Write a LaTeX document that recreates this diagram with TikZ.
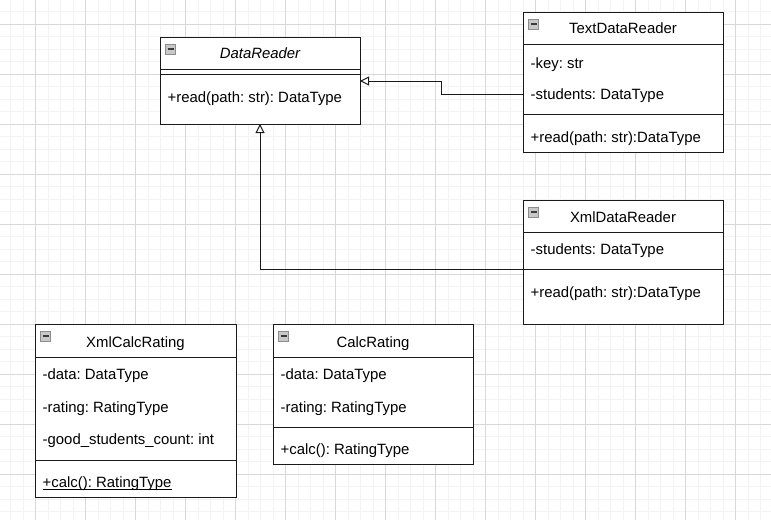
\documentclass[tikz,border=0pt]{standalone}
\usepackage{fontspec}
\setmainfont{Liberation Sans}
\frenchspacing
\usetikzlibrary{arrows.meta}
\definecolor{minorg}{HTML}{F3F3F3}
\definecolor{majorg}{HTML}{D8D8D8}
\definecolor{edge}{HTML}{1A1A1A}
\definecolor{iconframe}{HTML}{8C8C8C}
\definecolor{iconfill}{HTML}{C8C8C8}
\definecolor{iconbar}{HTML}{3A3A3A}
\begin{document}
\begin{tikzpicture}[x=1pt,y=-1pt, font=\fontsize{14.9}{18}\selectfont\frenchspacing,
  umlbox/.style={draw=edge, fill=white, line width=1pt, anchor=north west, inner sep=0pt, outer sep=0pt, minimum width=200pt},
  lbl/.style={inner sep=0pt, anchor=base west},
  ttl/.style={inner sep=0pt, anchor=base},
  sepline/.style={draw=edge, line width=1pt},
  minorline/.style={draw=minorg, line width=1pt},
  majorline/.style={draw=majorg, line width=1pt},
  iconbox/.style={draw=iconframe, fill=iconfill, line width=0.8pt},
  iconminus/.style={draw=iconbar, line width=1.6pt},
  inh/.style={draw=edge, line width=1pt, -{Triangle[fill=white, length=9pt, width=9pt]}}]
\useasboundingbox (0,0) rectangle (771,520);
\fill[white] (0,0) rectangle (771,520);
% grid
\foreach \i [evaluate=\i as \xx using -1.8+12.5*\i] in {0,...,62} {\draw[minorline] (\xx,0) -- (\xx,520);}
\foreach \i [evaluate=\i as \yy using -0.7+12.5*\i] in {0,...,42} {\draw[minorline] (0,\yy) -- (771,\yy);}
\foreach \i [evaluate=\i as \xx using 35.7+50*\i] in {0,...,14} {\draw[majorline] (\xx,0) -- (\xx,520);}
\foreach \i [evaluate=\i as \yy using 24.3+50*\i] in {0,...,9} {\draw[majorline] (0,\yy) -- (771,\yy);}

% DataReader
\node[umlbox, minimum height=87pt] (dr) at (160,37) {};
\draw[sepline] (dr.west |- 0,69) -- (dr.east |- 0,69);
\draw[sepline] (dr.west |- 0,74) -- (dr.east |- 0,74);
\node[ttl] (dr-t) at (260,58.3) {\itshape DataReader};
\node[lbl] (dr-m1) at (167.5,102.5) {+read(path: str): DataType};
\draw[iconbox] ([shift={(5.5,7.5)}]dr.north west) rectangle ++(10,9.5);
\draw[iconminus] ([shift={(7.5,12.2)}]dr.north west) -- ++(6,0);

% TextDataReader
\node[umlbox, minimum height=140pt] (tdr) at (523,12) {};
\draw[sepline] (tdr.west |- 0,44) -- (tdr.east |- 0,44);
\draw[sepline] (tdr.west |- 0,114) -- (tdr.east |- 0,114);
\node[ttl] (tdr-t) at (623,33.8) {TextDataReader};
\node[lbl] (tdr-a1) at (530.5,68.3) {-key: str};
\node[lbl] (tdr-a2) at (530.5,99.3) {-students: DataType};
\node[lbl] (tdr-m1) at (530.5,142.3) {+read(path: str):DataType};
\draw[iconbox] ([shift={(5.5,7.5)}]tdr.north west) rectangle ++(10,9.5);
\draw[iconminus] ([shift={(7.5,12.2)}]tdr.north west) -- ++(6,0);

% XmlDataReader
\node[umlbox, minimum height=124pt] (xdr) at (523,200) {};
\draw[sepline] (xdr.west |- 0,232) -- (xdr.east |- 0,232);
\draw[sepline] (xdr.west |- 0,269) -- (xdr.east |- 0,269);
\node[ttl] (xdr-t) at (623,222.5) {XmlDataReader};
\node[lbl] (xdr-a1) at (530.5,254) {-students: DataType};
\node[lbl] (xdr-m1) at (530.5,297.5) {+read(path: str):DataType};
\draw[iconbox] ([shift={(5.5,7.5)}]xdr.north west) rectangle ++(10,9.5);
\draw[iconminus] ([shift={(7.5,12.2)}]xdr.north west) -- ++(6,0);

% XmlCalcRating
\node[umlbox, minimum width=201pt, minimum height=173pt] (xcr) at (35,324) {};
\draw[sepline] (xcr.west |- 0,357) -- (xcr.east |- 0,357);
\draw[sepline] (xcr.west |- 0,460) -- (xcr.east |- 0,460);
\node[ttl] (xcr-t) at (135.5,347.5) {XmlCalcRating};
\node[lbl] (xcr-a1) at (42.5,379) {-data: DataType};
\node[lbl] (xcr-a2) at (42.5,412.5) {-rating: RatingType};
\node[lbl] (xcr-a3) at (42.5,444) {-good\_students\_count: int};
\node[lbl] (xcr-m1) at (42.5,487.5) {+calc(): RatingType};
\draw[draw=black, line width=0.9pt] ([yshift=-1.8pt]xcr-m1.base west) -- ([yshift=-1.8pt]xcr-m1.base east);
\draw[iconbox] ([shift={(5.5,7.5)}]xcr.north west) rectangle ++(10,9.5);
\draw[iconminus] ([shift={(7.5,12.2)}]xcr.north west) -- ++(6,0);

% CalcRating
\node[umlbox, minimum height=140pt] (cr) at (273,324) {};
\draw[sepline] (cr.west |- 0,357) -- (cr.east |- 0,357);
\draw[sepline] (cr.west |- 0,427) -- (cr.east |- 0,427);
\node[ttl] (cr-t) at (373,347.5) {CalcRating};
\node[lbl] (cr-a1) at (280.5,379) {-data: DataType};
\node[lbl] (cr-a2) at (280.5,412.5) {-rating: RatingType};
\node[lbl] (cr-m1) at (280.5,454) {+calc(): RatingType};
\draw[iconbox] ([shift={(5.5,7.5)}]cr.north west) rectangle ++(10,9.5);
\draw[iconminus] ([shift={(7.5,12.2)}]cr.north west) -- ++(6,0);

% inheritance connectors
\draw[inh] (tdr.west |- 0,94) -- (441,94) -- (441,81) -- (dr.east |- 0,81);
\draw[inh] (xdr.west |- 0,269) -- (260,269) -- (dr.south);
\end{tikzpicture}
\end{document}
